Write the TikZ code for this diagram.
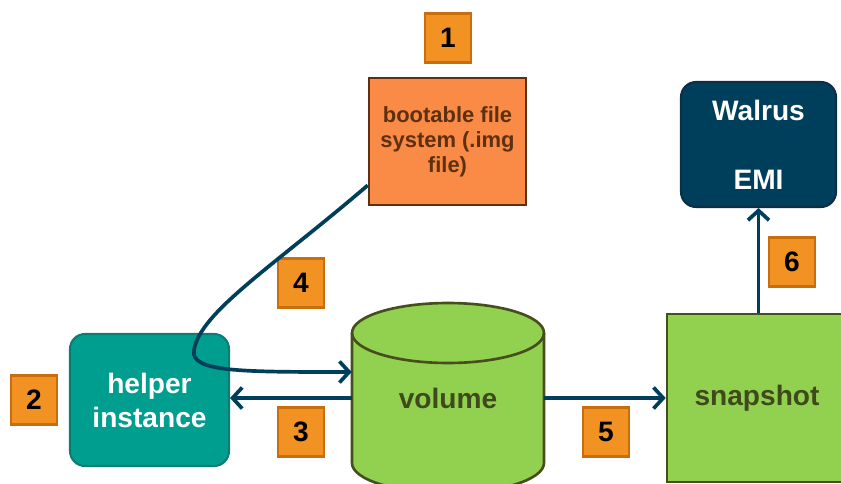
\documentclass[tikz,border=0pt]{standalone}
\usepackage{fontspec}
\setmainfont{Liberation Sans}
\usetikzlibrary{arrows.meta}
\definecolor{navy}{HTML}{003F5C}
\definecolor{navydark}{HTML}{0D2F45}
\definecolor{badgefill}{HTML}{F29222}
\definecolor{badgedraw}{HTML}{C86E0C}
\definecolor{bootfill}{HTML}{F98B47}
\definecolor{bootdraw}{HTML}{5E300F}
\definecolor{helperfill}{HTML}{009E8F}
\definecolor{helperdraw}{HTML}{0B7D73}
\definecolor{greenfill}{HTML}{92D050}
\definecolor{greendraw}{HTML}{464E1E}
\definecolor{greentext}{HTML}{3F4A1C}
\tikzset{
	badge/.style={draw=badgedraw,fill=badgefill,line width=1.2pt,minimum width=0.92cm,minimum height=0.98cm,inner sep=0pt,font=\fontsize{16}{19}\selectfont\bfseries},
	flow/.style={draw=navy,line width=2.1pt,-{Straight Barb[length=5.5pt,width=12pt]}},
	bigtext/.style={font=\fontsize{16}{19.3}\selectfont\bfseries,align=center}
}

\begin{document}
\begin{tikzpicture}[x=0.02cm,y=-0.02cm]
	\useasboundingbox (0,0) rectangle (841,483);
	\clip (0,0) rectangle (841,483);
	\node[draw=bootdraw,fill=bootfill,line width=1.5pt,minimum width=3.14cm,minimum height=2.54cm,text=bootdraw,align=center,font=\fontsize{12.5}{14.2}\selectfont\bfseries] (boot) at (447.5,141.5) {bootable file\\system (.img\\file)};
	\node[draw=helperdraw,fill=helperfill,line width=1.2pt,rounded corners=0.3cm,minimum width=3.18cm,minimum height=2.64cm,text=white,bigtext] (helper) at (149.5,400) {helper\\instance};
	\node[draw=navydark,fill=navy,line width=1.2pt,rounded corners=0.3cm,minimum width=3.1cm,minimum height=2.5cm,text=white,bigtext] (walrus) at (758.5,144.5) {Walrus\\[20pt]EMI};
	\node[draw=greendraw,fill=greenfill,line width=1.5pt,minimum width=3.6cm,minimum height=3.36cm,text=greentext,bigtext] (snap) at (757,398) {snapshot};
	\fill[greenfill] (352,333) -- (352,463) arc (180:360:1.92cm and 0.6cm) -- (544,333) arc (0:180:1.92cm and 0.6cm) -- cycle;
	\draw[greendraw,line width=1.5pt] (352,333) -- (352,463) arc (180:360:1.92cm and 0.6cm) -- (544,333);
	\draw[greendraw,line width=1.5pt] (448,333) ellipse (1.92cm and 0.6cm);
	\node[minimum width=3.84cm,minimum height=2.6cm,text=greentext,bigtext] (vol) at (448,398) {volume};
	\node[badge] (b1) at (448,38) {1};
	\node[badge] (b2) at (34,400) {2};
	\node[badge] (b3) at (301,432) {3};
	\node[badge] (b4) at (301,283) {4};
	\node[badge] (b5) at (606,432) {5};
	\node[badge] (b6) at (792,262) {6};
	\coordinate (in4) at ([yshift=0.52cm]vol.west);
	\draw[flow] ([yshift=0.42cm]boot.south west) .. controls (275,265) and (200,312) .. (194,350) .. controls (190,372) and (240,372) .. (in4);
	\draw[flow] (vol.west) -- (vol.west -| helper.east);
	\draw[flow] (vol.east) -- (vol.east -| snap.west);
	\draw[flow] (walrus.south |- snap.north) -- (walrus.south);
\end{tikzpicture}
\end{document}
